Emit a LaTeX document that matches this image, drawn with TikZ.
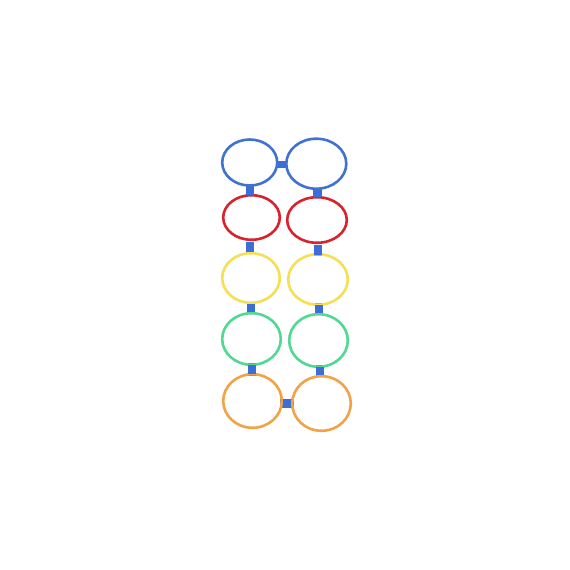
\documentclass[tikz,border=0pt]{standalone}
\begin{document}
\begin{tikzpicture}[x=1pt,y=-1pt,
  ring/.style={line width=2.6pt},
  link/.style={fill=linkblue, draw=none}]
\definecolor{ringblue}{HTML}{3F72D2}
\definecolor{linkblue}{HTML}{3D6DD6}
\definecolor{ringred}{HTML}{D8232E}
\definecolor{ringyellow}{HTML}{F5DF55}
\definecolor{ringgreen}{HTML}{52D892}
\definecolor{ringorange}{HTML}{F2A247}
\useasboundingbox[fill=white] (0,0) rectangle (570,570);
% links (drawn first, rings over them)
\fill[link] (276.5,160.5) rectangle (287,167.5);
\fill[link] (246,186) rectangle (253.5,196);
\fill[link] (313,188) rectangle (322,198);
\fill[link] (246,242) rectangle (253.5,253);
\fill[link] (314,245) rectangle (322,256);
\fill[link] (247,302) rectangle (254.5,313.5);
\fill[link] (315,303) rectangle (322.5,315);
\fill[link] (247.5,362.5) rectangle (256,375.5);
\fill[link] (316,365) rectangle (324,377);
\fill[link] (280,399) rectangle (293.5,408);
% rings
\draw[ring, ringblue] (249.7,162.5) ellipse [x radius=27.5, y radius=23];
\draw[ring, ringblue] (316.3,163.7) ellipse [x radius=30, y radius=25];
\draw[ring, ringred] (251.5,217.5) ellipse [x radius=28.3, y radius=22.3];
\draw[ring, ringred] (317,220) ellipse [x radius=29.8, y radius=22.8];
\draw[ring, ringyellow] (251,278) ellipse [x radius=28.8, y radius=24.8];
\draw[ring, ringyellow] (318,279.5) ellipse [x radius=29.8, y radius=25.3];
\draw[ring, ringgreen] (251.5,339) ellipse [x radius=29.3, y radius=25.8];
\draw[ring, ringgreen] (318.5,340.5) ellipse [x radius=29.3, y radius=26.3];
\draw[ring, ringorange] (252.5,401) ellipse [x radius=29.3, y radius=26.8];
\draw[ring, ringorange] (321.5,403.5) ellipse [x radius=29.3, y radius=27.3];
% link centres visible over rings
\fill[link] (278.5,161) rectangle (285,167);
\fill[link] (246,187.5) rectangle (253.5,194.5);
\fill[link] (313,190) rectangle (322,196.5);
\fill[link] (246,243.5) rectangle (253.5,251.5);
\fill[link] (314,246.5) rectangle (322,254.5);
\fill[link] (247,304) rectangle (254.5,311.5);
\fill[link] (315,305) rectangle (322.5,313);
\fill[link] (247.5,364.5) rectangle (256,373.5);
\fill[link] (316,367) rectangle (324,375);
\fill[link] (282.5,399) rectangle (291,408);
\end{tikzpicture}
\end{document}
